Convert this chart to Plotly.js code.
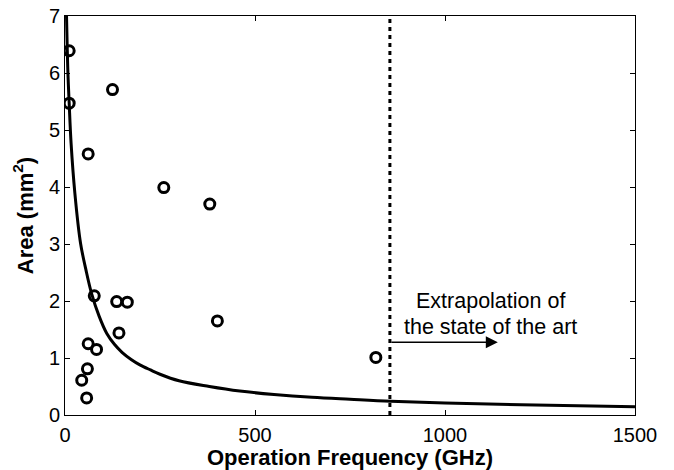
<!DOCTYPE html>
<html>
<head>
<meta charset="utf-8">
<script src="https://cdn.plot.ly/plotly-3.0.1.min.js"></script>
<style>html,body{margin:0;padding:0;background:#fff;}#chart{width:674px;height:470px;}</style>
</head>
<body>
<div id="chart"></div>
<script>
// Measured designs: operation frequency (GHz) vs area (mm^2)
const designFreq = [11, 11, 125, 61, 77, 136, 164, 142, 61, 83, 59, 44, 57, 260, 381, 401, 818];
const designArea = [6.39, 5.47, 5.71, 4.58, 2.09, 1.99, 1.98, 1.44, 1.25, 1.15, 0.81, 0.61, 0.30, 3.99, 3.70, 1.65, 1.01];

// Trend curve
const trendFreq = [4, 6, 8, 11, 16, 26, 41, 55, 70, 90, 110, 130, 150, 175, 197, 225, 250, 300, 380, 460, 550, 650, 750, 857, 1000, 1200, 1500];
const trendArea = [7.0, 6.4, 5.94, 5.47, 4.77, 3.89, 3.01, 2.55, 2.13, 1.73, 1.43, 1.24, 1.10, 0.97, 0.88, 0.79, 0.715, 0.60, 0.50, 0.42, 0.36, 0.31, 0.275, 0.24, 0.21, 0.178, 0.146];

// State-of-the-art boundary
const boundaryFreq = [855, 855];
const boundaryArea = [0, 7];

// Arrow and text
const arrowStart = [855, 1.275];
const arrowEnd = [1139, 1.275];
const noteLines = ["Extrapolation of", "the state of the art"];
const noteX = 1121;
const noteY = [2.0, 1.55];

const xTicks = [0, 500, 1000, 1500];
const yTicks = [0, 1, 2, 3, 4, 5, 6, 7];

const FONT = "Liberation Sans, Arial, Helvetica, sans-serif";

const traces = [
  {
    x: trendFreq, y: trendArea, type: "scatter", mode: "lines",
    line: {color: "#000", width: 3, shape: "spline", smoothing: 1},
    hoverinfo: "skip", showlegend: false
  },
  {
    x: boundaryFreq, y: boundaryArea, type: "scatter", mode: "lines",
    line: {color: "#000", width: 3, dash: "4px,4px"},
    hoverinfo: "skip", showlegend: false
  },
  {
    x: designFreq, y: designArea, type: "scatter", mode: "markers",
    marker: {symbol: "circle-open", size: 10, color: "#000", line: {width: 3, color: "#000"}},
    showlegend: false
  }
];

const annotations = noteLines.map((t, i) => ({
  x: noteX, y: noteY[i], xref: "x", yref: "y", text: t, showarrow: false,
  font: {family: FONT, size: 21.5, color: "#000"}, xanchor: "center", yanchor: "middle"
}));
annotations.push({
  x: arrowEnd[0], y: arrowEnd[1], ax: arrowStart[0], ay: arrowStart[1],
  xref: "x", yref: "y", axref: "x", ayref: "y", text: "", showarrow: true,
  arrowhead: 2, arrowsize: 1.6, arrowwidth: 1.5, arrowcolor: "#000"
});

const layout = {
  width: 674, height: 470,
  margin: {l: 65, r: 39, t: 16, b: 55},
  paper_bgcolor: "#fff", plot_bgcolor: "#fff",
  font: {family: FONT, size: 20, color: "#000"},
  showlegend: false,
  xaxis: {
    range: [0, 1500], tickvals: xTicks, ticktext: xTicks.map(String),
    ticks: "inside", ticklen: 5, tickwidth: 1, tickcolor: "#000",
    showline: true, linecolor: "#000", linewidth: 1, mirror: "ticks",
    showgrid: false, zeroline: false, ticklabelstandoff: 2,
    tickfont: {family: FONT, size: 20, color: "#000"},
    title: {text: "<b>Operation Frequency (GHz)</b>", font: {family: FONT, size: 22, color: "#000"}, standoff: 1}
  },
  yaxis: {
    range: [0, 7], tickvals: yTicks, ticktext: yTicks.map(String),
    ticks: "inside", ticklen: 5, tickwidth: 1, tickcolor: "#000",
    showline: true, linecolor: "#000", linewidth: 1, mirror: "ticks",
    showgrid: false, zeroline: false,
    tickfont: {family: FONT, size: 20, color: "#000"},
    title: {text: "<b>Area (mm<sup>2</sup>)</b>", font: {family: FONT, size: 22, color: "#000"}, standoff: 9}
  },
  annotations: annotations
};

Plotly.newPlot("chart", traces, layout, {displayModeBar: false, staticPlot: true});
</script>
</body>
</html>
